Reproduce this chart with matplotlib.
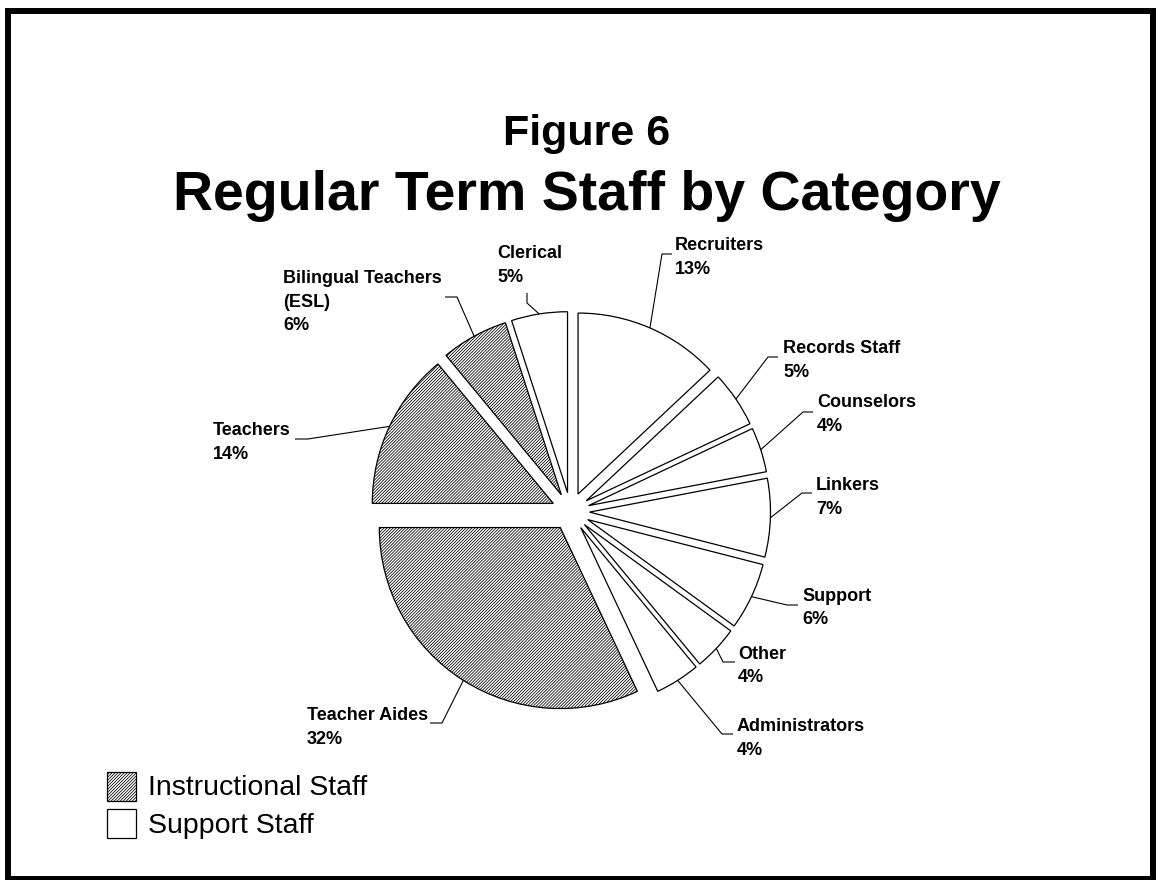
import matplotlib
matplotlib.use("Agg")
import matplotlib.pyplot as plt
from matplotlib.patches import Rectangle
import numpy as np

plt.rcParams['font.family'] = ['Liberation Sans', 'DejaVu Sans']
plt.rcParams['hatch.linewidth'] = 0.55

# ---------------- data ----------------
categories = ["Recruiters", "Records Staff", "Counselors", "Linkers", "Support",
              "Other", "Administrators", "Teacher Aides", "Teachers",
              "Bilingual Teachers\n(ESL)", "Clerical"]
percents = [13, 5, 4, 7, 6, 4, 4, 32, 14, 6, 5]
groups = ["Support", "Support", "Support", "Support", "Support", "Support",
          "Support", "Instructional", "Instructional", "Instructional", "Support"]
legend_labels = ["Instructional Staff", "Support Staff"]
title_line1 = "Figure 6"
title_line2 = "Regular Term Staff by Category"

# ---------------- layout (pixel coordinates, y from top) ----------------
W, H = 1161, 880
def Y(py):
    return H - py

pie_center = (570.5, Y(511.5))
pie_radius = 181
explode_px = 19

# text left x, first baseline y, elbow point, end point of leader line
label_pos = [
    (675, 250, (662, 254), (672, 254)),
    (783, 353, (768, 357), (778, 357)),
    (817, 407, (803, 412), (813, 412)),
    (816, 490, (802, 493), (812, 493)),
    (802, 601, (787, 605), (798, 605)),
    (738, 659, (723, 662), (735, 662)),
    (737, 731, (722, 734), (733, 734)),
    (307, 720, (442, 723), (430, 723)),
    (213, 435, (308, 439), (295, 439)),
    (283, 283, (457, 297), (445, 297)),
    (497, 258, (527, 303), (527, 293)),
]
line_step = 23.5

fig = plt.figure(figsize=(W / 100, H / 100), dpi=100)
ax = fig.add_axes([0, 0, 1, 1])

hatch_pat = '/' * 11
face = ['white'] * len(percents)
wedges, _ = ax.pie(percents, startangle=90, counterclock=False,
                   explode=[explode_px] * len(percents),
                   radius=pie_radius, center=pie_center,
                   colors=face,
                   wedgeprops=dict(edgecolor='black', linewidth=0.9))
for w, g in zip(wedges, groups):
    if g == "Instructional":
        w.set_hatch(hatch_pat)

ax.set_xlim(0, W)
ax.set_ylim(0, H)
ax.set_aspect('equal')
ax.axis('off')

# labels with leader lines
total = sum(percents)
cum = 0
for i, (name, p) in enumerate(zip(categories, percents)):
    mid = 90 - 360 * (cum + p / 2) / total
    cum += p
    th = np.deg2rad(mid)
    ax_x = pie_center[0] + (pie_radius + explode_px) * np.cos(th)
    ax_y = pie_center[1] + (pie_radius + explode_px) * np.sin(th)
    tx, ty, elbow, end = label_pos[i]
    ax.plot([ax_x, elbow[0], end[0]], [ax_y, Y(elbow[1]), Y(end[1])],
            color='black', lw=0.8, solid_capstyle='butt')
    lines = name.split("\n") + [f"{p}%"]
    for k, ln in enumerate(lines):
        ax.text(tx, Y(ty + k * line_step), ln, fontsize=13, fontweight='bold',
                ha='left', va='baseline', color='black')

# title
ax.text(587, Y(145), title_line1, fontsize=31, fontweight='bold',
        ha='center', va='baseline')
ax.text(587, Y(210), title_line2, fontsize=40, fontweight='bold',
        ha='center', va='baseline')

# legend
leg_boxes = [(107, 772), (107, 809)]
leg_base = [795, 833]
for (bx, by), lab, base, hatched in zip(leg_boxes, legend_labels, leg_base, [True, False]):
    r = Rectangle((bx, Y(by + 29)), 29, 29, facecolor='white', edgecolor='black',
                  lw=0.9, hatch=hatch_pat if hatched else None)
    ax.add_patch(r)
    ax.text(148, Y(base), lab, fontsize=20.5, ha='left', va='baseline')

# outer frame
frame = Rectangle((8, Y(879)), 1145, 868, fill=False, edgecolor='black', lw=4.3)
ax.add_patch(frame)

fig.savefig("out.png", dpi=100)
